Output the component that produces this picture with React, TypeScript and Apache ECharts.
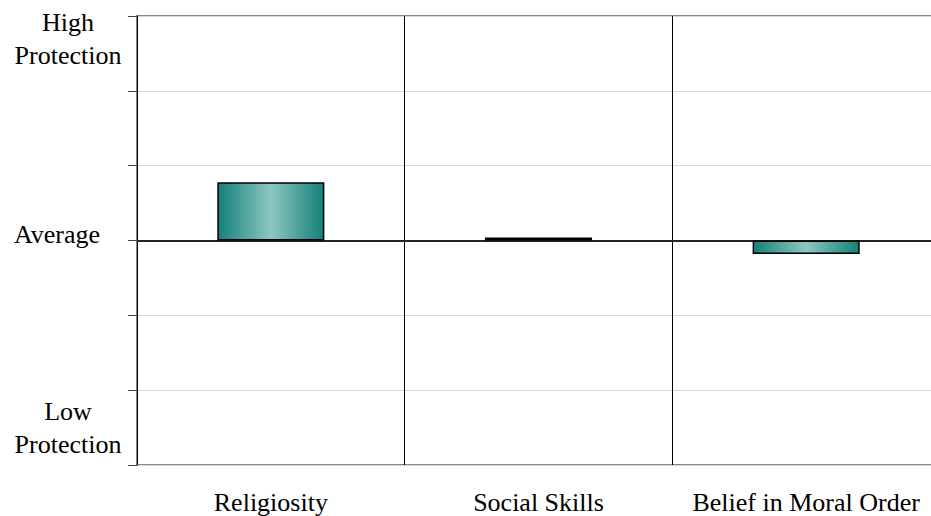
import React, { useEffect, useRef } from "react";
import * as echarts from "echarts";

const categories = ["Religiosity", "Social Skills", "Belief in Moral Order"];
const values = [0.78, 0.04, -0.18];
const yMin = -3;
const yMax = 3;
const yInterval = 1;
const highLabel = ["High", "Protection"];
const averageLabel = "Average";
const lowLabel = ["Low", "Protection"];

const FONT = "'Liberation Serif', 'Times New Roman', serif";

export default function App() {
  const ref = useRef<HTMLDivElement>(null);
  useEffect(() => {
    if (!ref.current) return;
    const chart = echarts.init(ref.current, null, { renderer: "svg" });
    chart.setOption({
      animation: false,
      backgroundColor: "#ffffff",
      grid: {
        left: 137,
        right: -9,
        top: 16,
        bottom: 51,
        show: true,
        borderColor: "#8a8a8a",
        borderWidth: 2,
        containLabel: false,
        outerBoundsMode: "none",
      },
      xAxis: {
        type: "category",
        data: categories,
        boundaryGap: true,
        axisLine: { show: true, lineStyle: { color: "#8a8a8a", width: 2 } },
        axisTick: { show: false },
        splitLine: { show: true, lineStyle: { color: "#000", width: 1 } },
        axisLabel: {
          fontFamily: FONT,
          fontSize: 26,
          color: "#000",
          margin: 24,
          interval: 0,
        },
      },
      yAxis: {
        type: "value",
        min: yMin,
        max: yMax,
        interval: yInterval,
        axisLine: { show: true, lineStyle: { color: "#000", width: 1 } },
        axisTick: { show: true, inside: false, length: 9, lineStyle: { color: "#444" } },
        splitLine: { show: true, lineStyle: { color: "#d9d9d9", width: 1 } },
        axisLabel: {
          fontFamily: FONT,
          fontSize: 26,
          color: "#000",
          margin: 13,
          align: "right",
          formatter: (v: number) => {
            if (v === yMax) return `{hi|${highLabel[0]}}\n{hi|${highLabel[1]}}`;
            if (v === yMin) return `{lo|${lowLabel[0]}}\n{lo|${lowLabel[1]}}`;
            if (v === 0) return `{avg|${averageLabel}}`;
            return "";
          },
          rich: {
            hi: { fontFamily: FONT, fontSize: 26, lineHeight: 33, width: 112, align: "center", padding: [45, 0, 0, 0] },
            lo: { fontFamily: FONT, fontSize: 26, lineHeight: 33, width: 112, align: "center", padding: [0, 0, 75, 0] },
            avg: { fontFamily: FONT, fontSize: 26, lineHeight: 33, padding: [0, 24, 12, 0] },
          },
        },
      },
      series: [
        {
          type: "bar",
          data: values,
          barWidth: "40%",
          itemStyle: {
            color: new echarts.graphic.LinearGradient(0, 0, 1, 0, [
              { offset: 0, color: "#14807a" },
              { offset: 0.5, color: "#8ec6c1" },
              { offset: 1, color: "#14807a" },
            ]),
            borderColor: "#000",
            borderWidth: 1.5,
          },
          markLine: {
            silent: true,
            symbol: "none",
            label: { show: false },
            lineStyle: { color: "#000", width: 1.5, type: "solid" },
            data: [{ yAxis: 0 }],
          },
        },
      ],
    });
    return () => chart.dispose();
  }, []);
  return (
    <div
      ref={ref}
      style={{ position: "absolute", left: 0, top: 0, width: 931, height: 516 }}
    />
  );
}
